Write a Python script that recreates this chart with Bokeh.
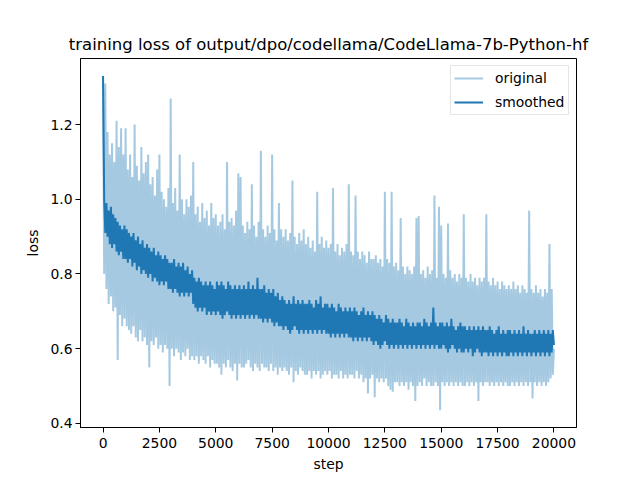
from bokeh.plotting import figure
from bokeh.models import Range1d, FixedTicker, PrintfTickFormatter, Legend, LegendItem
from bokeh.embed import file_html
from bokeh.resources import INLINE

title_text = "training loss of output/dpo/codellama/CodeLlama-7b-Python-hf"

# raw training loss, read every 50 steps (0 .. 20000)
original = [
    1.33, 0.80, 1.31, 0.76, 1.18, 0.72, 1.12, 0.74, 1.15, 0.70, 1.10, 0.71, 1.21, 0.57, 1.14, 0.69, 1.19, 0.66, 1.12, 0.68,
    1.19, 0.66, 1.08, 0.65, 1.12, 0.64, 1.06, 0.66, 1.20, 0.63, 1.09, 0.62, 1.05, 0.65, 1.14, 0.62, 1.07, 0.63, 1.10, 0.61,
    1.12, 0.55, 1.04, 0.62, 1.06, 0.61, 1.01, 0.63, 1.08, 0.60, 1.12, 0.61, 1.02, 0.59, 1.00, 0.61, 0.98, 0.60, 1.03, 0.50,
    1.27, 0.60, 0.99, 0.58, 1.03, 0.60, 0.97, 0.59, 1.12, 0.57, 1.00, 0.59, 0.96, 0.58, 1.00, 0.60, 0.98, 0.57, 1.01, 0.58,
    1.10, 0.57, 0.96, 0.58, 0.98, 0.56, 0.94, 0.58, 0.99, 0.57, 0.95, 0.56, 0.97, 0.58, 0.93, 0.55, 0.99, 0.57, 0.95, 0.56,
    0.96, 0.56, 0.93, 0.55, 0.94, 0.53, 0.96, 0.56, 0.92, 0.55, 1.10, 0.57, 0.94, 0.55, 0.95, 0.54, 0.93, 0.56, 0.97, 0.515,
    1.07, 0.56, 1.06, 0.55, 0.93, 0.55, 0.91, 0.56, 0.94, 0.57, 0.92, 0.55, 1.04, 0.54, 0.93, 0.56, 0.90, 0.55, 0.94, 0.54,
    1.13, 0.56, 0.92, 0.55, 0.90, 0.55, 0.93, 0.54, 0.91, 0.56, 1.12, 0.54, 0.92, 0.55, 0.89, 0.53, 0.99, 0.55, 0.92, 0.54,
    0.90, 0.55, 0.92, 0.54, 0.89, 0.53, 0.91, 0.55, 1.05, 0.51, 0.90, 0.54, 0.88, 0.53, 0.91, 0.55, 0.89, 0.54, 0.92, 0.53,
    0.88, 0.53, 0.90, 0.54, 0.87, 0.52, 0.89, 0.54, 0.86, 0.53, 1.02, 0.54, 0.88, 0.52, 0.90, 0.53, 0.87, 0.54, 0.89, 0.53,
    0.87, 0.54, 0.88, 0.52, 1.03, 0.53, 0.86, 0.53, 0.88, 0.52, 0.85, 0.54, 0.87, 0.52, 0.86, 0.53, 0.88, 0.52, 1.04, 0.53,
    0.86, 0.53, 0.85, 0.52, 1.01, 0.54, 0.86, 0.52, 0.84, 0.53, 0.86, 0.51, 0.85, 0.52, 0.83, 0.48, 0.86, 0.52, 0.84, 0.53,
    0.84, 0.47, 0.85, 0.52, 0.83, 0.51, 0.84, 0.52, 0.82, 0.51, 1.02, 0.52, 0.84, 0.50, 0.83, 0.49, 1.02, 0.485, 0.82, 0.51,
    0.83, 0.51, 0.81, 0.50, 0.95, 0.51, 0.82, 0.50, 0.80, 0.51, 0.82, 0.49, 0.81, 0.51, 0.80, 0.50, 0.82, 0.46, 0.95, 0.50,
    0.955, 0.51, 0.80, 0.50, 0.81, 0.52, 0.79, 0.50, 0.82, 0.51, 0.80, 0.50, 0.81, 0.50, 1.01, 0.51, 0.79, 0.50, 0.98, 0.435,
    0.93, 0.51, 0.80, 0.50, 0.79, 0.51, 0.935, 0.50, 0.81, 0.51, 0.79, 0.50, 0.80, 0.51, 0.78, 0.50, 0.80, 0.51, 0.79, 0.50,
    0.96, 0.50, 0.79, 0.51, 0.78, 0.50, 0.80, 0.51, 0.78, 0.50, 0.79, 0.51, 0.77, 0.46, 0.79, 0.51, 0.78, 0.50, 0.79, 0.51,
    0.96, 0.51, 0.78, 0.50, 0.77, 0.51, 0.79, 0.50, 0.77, 0.51, 0.78, 0.50, 0.76, 0.51, 0.78, 0.50, 0.77, 0.51, 0.76, 0.50,
    0.77, 0.50, 0.76, 0.51, 0.78, 0.50, 0.76, 0.51, 0.77, 0.50, 0.75, 0.51, 0.77, 0.50, 0.76, 0.51, 0.75, 0.50, 0.97, 0.51,
    0.76, 0.467, 0.75, 0.51, 0.77, 0.50, 0.75, 0.51, 0.76, 0.50, 0.74, 0.51, 0.76, 0.50, 0.75, 0.51, 0.88, 0.52, 0.76, 0.53,
    0.60,
]

# smoothed training loss, read every 50 steps (0 .. 20000)
smoothed = [
    1.33, 1.00, 0.91, 0.99, 0.90, 0.97, 0.88, 0.98, 0.87, 0.96, 0.88, 0.95, 0.86, 0.94, 0.85, 0.93, 0.86, 0.92, 0.84, 0.93,
    0.84, 0.92, 0.83, 0.91, 0.84, 0.90, 0.82, 0.91, 0.83, 0.89, 0.81, 0.90, 0.82, 0.88, 0.80, 0.89, 0.81, 0.87, 0.80, 0.88,
    0.79, 0.87, 0.80, 0.86, 0.78, 0.87, 0.79, 0.85, 0.78, 0.86, 0.77, 0.85, 0.78, 0.84, 0.77, 0.85, 0.78, 0.84, 0.76, 0.83,
    0.76, 0.83, 0.75, 0.84, 0.76, 0.82, 0.75, 0.83, 0.74, 0.82, 0.75, 0.83, 0.74, 0.81, 0.75, 0.82, 0.74, 0.80, 0.75, 0.81,
    0.72, 0.79, 0.71, 0.78, 0.70, 0.79, 0.71, 0.78, 0.70, 0.77, 0.71, 0.78, 0.69, 0.77, 0.70, 0.78, 0.69, 0.77, 0.70, 0.76,
    0.69, 0.78, 0.70, 0.77, 0.69, 0.78, 0.68, 0.77, 0.69, 0.76, 0.70, 0.78, 0.69, 0.77, 0.68, 0.76, 0.69, 0.77, 0.68, 0.76,
    0.69, 0.77, 0.68, 0.76, 0.69, 0.77, 0.68, 0.76, 0.69, 0.78, 0.68, 0.76, 0.69, 0.77, 0.68, 0.76, 0.69, 0.79, 0.68, 0.76,
    0.68, 0.76, 0.67, 0.77, 0.68, 0.75, 0.67, 0.76, 0.68, 0.75, 0.67, 0.76, 0.66, 0.74, 0.67, 0.75, 0.66, 0.73, 0.66, 0.74,
    0.65, 0.73, 0.66, 0.72, 0.65, 0.73, 0.64, 0.72, 0.65, 0.74, 0.66, 0.72, 0.65, 0.73, 0.64, 0.72, 0.65, 0.73, 0.64, 0.72,
    0.65, 0.72, 0.64, 0.73, 0.65, 0.72, 0.64, 0.71, 0.65, 0.73, 0.64, 0.72, 0.65, 0.74, 0.64, 0.71, 0.65, 0.72, 0.64, 0.72,
    0.64, 0.71, 0.63, 0.72, 0.64, 0.71, 0.63, 0.70, 0.64, 0.72, 0.63, 0.71, 0.64, 0.70, 0.63, 0.71, 0.64, 0.70, 0.63, 0.71,
    0.63, 0.70, 0.62, 0.71, 0.63, 0.70, 0.62, 0.69, 0.63, 0.70, 0.62, 0.71, 0.63, 0.69, 0.62, 0.70, 0.63, 0.69, 0.62, 0.70,
    0.61, 0.69, 0.62, 0.68, 0.61, 0.69, 0.60, 0.68, 0.61, 0.67, 0.62, 0.69, 0.61, 0.68, 0.60, 0.67, 0.61, 0.68, 0.60, 0.67,
    0.61, 0.67, 0.60, 0.68, 0.61, 0.67, 0.60, 0.66, 0.61, 0.68, 0.60, 0.67, 0.61, 0.66, 0.60, 0.67, 0.61, 0.66, 0.60, 0.67,
    0.61, 0.67, 0.60, 0.66, 0.61, 0.68, 0.60, 0.67, 0.61, 0.66, 0.60, 0.67, 0.61, 0.71, 0.60, 0.67, 0.61, 0.66, 0.60, 0.67,
    0.60, 0.67, 0.61, 0.66, 0.60, 0.67, 0.59, 0.66, 0.60, 0.68, 0.61, 0.66, 0.60, 0.65, 0.59, 0.66, 0.60, 0.67, 0.59, 0.66,
    0.59, 0.66, 0.60, 0.65, 0.59, 0.66, 0.60, 0.65, 0.58, 0.66, 0.59, 0.65, 0.60, 0.66, 0.59, 0.65, 0.58, 0.66, 0.59, 0.65,
    0.59, 0.65, 0.58, 0.66, 0.59, 0.65, 0.58, 0.64, 0.59, 0.65, 0.58, 0.66, 0.59, 0.64, 0.58, 0.65, 0.59, 0.64, 0.58, 0.65,
    0.58, 0.65, 0.59, 0.64, 0.58, 0.65, 0.59, 0.64, 0.58, 0.65, 0.59, 0.64, 0.58, 0.66, 0.59, 0.64, 0.58, 0.65, 0.59, 0.64,
    0.58, 0.64, 0.59, 0.65, 0.58, 0.64, 0.59, 0.65, 0.58, 0.64, 0.59, 0.65, 0.58, 0.64, 0.59, 0.65, 0.58, 0.64, 0.59, 0.65,
    0.61,
]

step_interval = 50
steps = [i * step_interval for i in range(len(original))]
steps_s = [i * step_interval for i in range(len(smoothed))]

x_ticks = [0, 2500, 5000, 7500, 10000, 12500, 15000, 17500, 20000]
y_ticks = [0.4, 0.6, 0.8, 1.0, 1.2]

FONT = "DejaVu Sans"

p = figure(
    width=640, height=480,
    frame_width=496, frame_height=369,
    min_border_left=80, min_border_right=64, min_border_top=58, min_border_bottom=53,
    output_backend="svg", toolbar_location=None,
    x_range=Range1d(-1000, 21000), y_range=Range1d(0.389, 1.377),
    title=title_text,
)
p.title.align = "center"
p.title.text_font = FONT
p.title.text_font_size = "16.5px"
p.title.text_font_style = "normal"
p.title.text_color = "black"
p.title.standoff = 9

p.xgrid.visible = False
p.ygrid.visible = False
p.outline_line_color = "black"
p.outline_line_width = 1
p.outline_line_alpha = 1

for ax in (p.xaxis[0], p.yaxis[0]):
    ax.axis_line_color = "black"
    ax.major_tick_line_color = "black"
    ax.major_tick_out = 5
    ax.major_tick_in = 0
    ax.minor_tick_line_color = None
    ax.major_label_text_font = FONT
    ax.major_label_text_font_size = "13.9px"
    ax.major_label_text_color = "black"
    ax.axis_label_text_font = FONT
    ax.axis_label_text_font_size = "13.9px"
    ax.axis_label_text_font_style = "normal"
    ax.axis_label_text_color = "black"

p.xaxis[0].major_label_standoff = 5
p.yaxis[0].major_label_standoff = 3
p.xaxis[0].axis_label_standoff = 5
p.yaxis[0].axis_label_standoff = 6

p.xaxis[0].ticker = FixedTicker(ticks=x_ticks)
p.yaxis[0].ticker = FixedTicker(ticks=y_ticks)
p.yaxis[0].formatter = PrintfTickFormatter(format="%.1f")
p.xaxis[0].axis_label = "step"
p.yaxis[0].axis_label = "loss"

r1 = p.line(steps, original, line_color="#1f77b4", line_alpha=0.4, line_width=2)
r2 = p.line(steps_s, smoothed, line_color="#1f77b4", line_width=2)

legend = Legend(
    items=[LegendItem(label="original", renderers=[r1]),
           LegendItem(label="smoothed", renderers=[r2])],
    location="top_right",
)
legend.margin = 7
legend.padding = 3
legend.spacing = 6
legend.glyph_width = 29
legend.glyph_height = 18
legend.label_height = 18
legend.label_width = 70
legend.label_standoff = 12
legend.label_text_font = FONT
legend.label_text_font_size = "13.9px"
legend.label_text_color = "black"
legend.border_line_color = "#cccccc"
legend.background_fill_alpha = 0.8
p.add_layout(legend, "center")

open("out.html", "w").write(file_html(p, INLINE))
